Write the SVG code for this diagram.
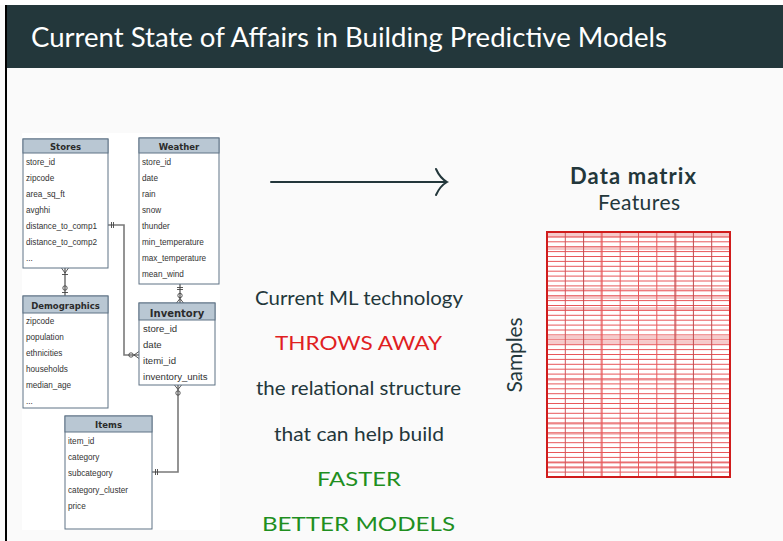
<svg xmlns="http://www.w3.org/2000/svg" width="783" height="541" viewBox="0 0 783 541">
  <style>
    .hdr { fill: #b9c7d3; stroke: #5f7385; stroke-width: 1; }
    .tbl { fill: #ffffff; stroke: #5f7385; stroke-width: 1; }
    .tname { font-family: "DejaVu Sans", Verdana, sans-serif; font-weight: bold; font-size: 8.5px; fill: #2b2b2b; text-anchor: middle; }
    .row { font-family: "Liberation Sans", Arial, sans-serif; font-size: 8.2px; fill: #333333; }
    .rowL { font-family: "Liberation Sans", Arial, sans-serif; font-size: 9.6px; fill: #333333; }
    .conn { fill: none; stroke: #7a7a7a; stroke-width: 1.6; }
    .mark { fill: none; stroke: #444444; stroke-width: 0.9; }
    .body { font-family: Lato, "Open Sans", sans-serif; font-size: 20px; text-anchor: middle; }
    .grid { stroke: #e8575a; stroke-width: 1; }
    .band { fill: #e88a8c; opacity: 0.45; }
  </style>

  <!-- slide background and frame -->
  <rect x="0" y="0" width="783" height="541" fill="#fafafa"/>
  <rect x="0" y="0" width="783" height="5" fill="#ffffff"/>
  <rect x="6" y="5" width="777" height="63" fill="#23373b"/>
  <rect x="5" y="5" width="2" height="536" fill="#000000"/>
  <text x="31" y="47" font-family="Lato, 'Open Sans', sans-serif" font-size="26" fill="#ffffff" textLength="636" lengthAdjust="spacingAndGlyphs">Current State of Affairs in Building Predictive Models</text>

  <!-- schema panel -->
  <rect x="22" y="133" width="198" height="397" fill="#ffffff"/>

  <g id="connectors">
    <!-- Stores -> Inventory -->
    <polyline class="conn" points="108,225 124,225 124,355 139,355"/>
    <line class="mark" x1="111.5" y1="222" x2="111.5" y2="228"/>
    <line class="mark" x1="113.5" y1="222" x2="113.5" y2="228"/>
    <circle class="mark" cx="131" cy="355" r="2.2" fill="#ffffff"/>
    <polyline class="mark" points="139,351.5 134,355 139,358.5"/>
    <!-- Stores -> Demographics -->
    <line class="conn" x1="65" y1="268" x2="65" y2="296"/>
    <polyline class="mark" points="61.5,268 65,273 68.5,268"/>
    <line class="mark" x1="62" y1="274.5" x2="68" y2="274.5"/>
    <circle class="mark" cx="65" cy="288" r="2.2" fill="#ffffff"/>
    <line class="mark" x1="62" y1="292.5" x2="68" y2="292.5"/>
    <!-- Weather -> Inventory -->
    <line class="conn" x1="180" y1="284" x2="180" y2="303"/>
    <line class="mark" x1="177" y1="287.5" x2="183" y2="287.5"/>
    <line class="mark" x1="177" y1="289.5" x2="183" y2="289.5"/>
    <circle class="mark" cx="180" cy="295.5" r="2.2" fill="#ffffff"/>
    <polyline class="mark" points="176.5,303 180,298.5 183.5,303"/>
    <!-- Inventory -> Items -->
    <polyline class="conn" points="178,385 178,472 152,472"/>
    <polyline class="mark" points="174.5,385 178,389.5 181.5,385"/>
    <circle class="mark" cx="178" cy="393" r="2.2" fill="#ffffff"/>
    <line class="mark" x1="155.5" y1="469" x2="155.5" y2="475"/>
    <line class="mark" x1="157.5" y1="469" x2="157.5" y2="475"/>
  </g>

  <g id="stores">
    <rect class="tbl" x="23" y="139" width="85" height="129"/>
    <rect class="hdr" x="23" y="139" width="85" height="14"/>
    <text class="tname" x="65.5" y="149.5">Stores</text>
    <text class="row" x="26" y="165">store_id</text>
    <text class="row" x="26" y="181">zipcode</text>
    <text class="row" x="26" y="197">area_sq_ft</text>
    <text class="row" x="26" y="213">avghhi</text>
    <text class="row" x="26" y="229">distance_to_comp1</text>
    <text class="row" x="26" y="245">distance_to_comp2</text>
    <text class="row" x="26" y="261" fill="#777777">...</text>
  </g>

  <g id="weather">
    <rect class="tbl" x="139" y="138" width="80" height="146"/>
    <rect class="hdr" x="139" y="138" width="80" height="15"/>
    <text class="tname" x="179" y="149.5">Weather</text>
    <text class="row" x="142" y="165">store_id</text>
    <text class="row" x="142" y="181">date</text>
    <text class="row" x="142" y="197">rain</text>
    <text class="row" x="142" y="213">snow</text>
    <text class="row" x="142" y="229">thunder</text>
    <text class="row" x="142" y="245">min_temperature</text>
    <text class="row" x="142" y="261">max_temperature</text>
    <text class="row" x="142" y="277">mean_wind</text>
  </g>

  <g id="demographics">
    <rect class="tbl" x="23" y="296" width="85" height="112"/>
    <rect class="hdr" x="23" y="296" width="85" height="17"/>
    <text class="tname" x="65.5" y="308.5">Demographics</text>
    <text class="row" x="26" y="324">zipcode</text>
    <text class="row" x="26" y="340">population</text>
    <text class="row" x="26" y="356">ethnicities</text>
    <text class="row" x="26" y="372">households</text>
    <text class="row" x="26" y="388">median_age</text>
    <text class="row" x="26" y="404" fill="#777777">...</text>
  </g>

  <g id="inventory">
    <rect class="tbl" x="139" y="303" width="76" height="82"/>
    <rect class="hdr" x="139" y="303" width="76" height="17"/>
    <text class="tname" x="177" y="317" style="font-size:10px">Inventory</text>
    <text class="rowL" x="143" y="331.5">store_id</text>
    <text class="rowL" x="143" y="347.5">date</text>
    <text class="rowL" x="143" y="363.5">itemi_id</text>
    <text class="rowL" x="143" y="379.5">inventory_units</text>
  </g>

  <g id="items">
    <rect class="tbl" x="65" y="416" width="87" height="113"/>
    <rect class="hdr" x="65" y="416" width="87" height="16"/>
    <text class="tname" x="108.5" y="428">Items</text>
    <text class="row" x="68" y="444">item_id</text>
    <text class="row" x="68" y="460">category</text>
    <text class="row" x="68" y="476">subcategory</text>
    <text class="row" x="68" y="493">category_cluster</text>
    <text class="row" x="68" y="509">price</text>
  </g>

  <!-- transformation arrow -->
  <g id="arrow" fill="none" stroke="#23373b" stroke-width="2" stroke-linecap="round">
    <line x1="271" y1="182" x2="446" y2="182"/>
    <path d="M436,169 Q440,178 447,182 Q440,186 436,195"/>
  </g>

  <!-- message -->
  <g id="message">
    <text class="body" x="359" y="305" fill="#23373b" textLength="208" lengthAdjust="spacingAndGlyphs">Current ML technology</text>
    <text class="body" x="358.5" y="350" fill="#e0201f" textLength="167" lengthAdjust="spacingAndGlyphs">THROWS AWAY</text>
    <text class="body" x="358.5" y="395" fill="#23373b" textLength="205" lengthAdjust="spacingAndGlyphs">the relational structure</text>
    <text class="body" x="359" y="441" fill="#23373b" textLength="170" lengthAdjust="spacingAndGlyphs">that can help build</text>
    <text class="body" x="359" y="486" fill="#1f8f1f" textLength="84" lengthAdjust="spacingAndGlyphs">FASTER</text>
    <text class="body" x="358.5" y="531" fill="#1f8f1f" textLength="193" lengthAdjust="spacingAndGlyphs">BETTER MODELS</text>
  </g>

  <!-- data matrix -->
  <g id="data-matrix">
    <text x="633" y="184" font-family="Lato, 'Open Sans', sans-serif" font-size="22" font-weight="bold" fill="#23373b" text-anchor="middle" textLength="126">Data matrix</text>
    <text x="639" y="210" font-family="Lato, 'Open Sans', sans-serif" font-size="21" fill="#23373b" text-anchor="middle" textLength="82">Features</text>
    <text transform="translate(522,355) rotate(-90)" font-family="Lato, 'Open Sans', sans-serif" font-size="21" fill="#23373b" text-anchor="middle" textLength="75">Samples</text>
    <rect x="547" y="232" width="183" height="245" fill="#ffffff"/>
    <!-- faded sample rows -->
    <rect class="band" x="547" y="232" width="183" height="6"/>
    <rect class="band" x="547" y="247" width="183" height="3"/>
    <rect class="band" x="547" y="288" width="183" height="3"/>
    <rect class="band" x="547" y="296" width="183" height="3"/>
    <rect class="band" x="547" y="307" width="183" height="3"/>
    <rect class="band" x="547" y="336" width="183" height="3"/>
    <rect class="band" x="547" y="341" width="183" height="3"/>
    <rect class="band" x="547" y="378" width="183" height="3"/>
    <rect class="band" x="547" y="422" width="183" height="3"/>
    <rect class="band" x="547" y="432" width="183" height="3"/>
    <rect class="band" x="547" y="461" width="183" height="3"/>
    <rect class="band" x="547" y="466" width="183" height="3"/>
    <!-- faded feature columns -->
    <rect class="band" x="600" y="232" width="3" height="245" opacity="0.35"/>
    <rect class="band" x="674" y="232" width="3" height="245" opacity="0.35"/>
    <g class="grid">
      <line x1="547" y1="236.9" x2="730" y2="236.9"/><line x1="547" y1="241.8" x2="730" y2="241.8"/>
      <line x1="547" y1="246.7" x2="730" y2="246.7"/><line x1="547" y1="251.6" x2="730" y2="251.6"/>
      <line x1="547" y1="256.5" x2="730" y2="256.5"/><line x1="547" y1="261.4" x2="730" y2="261.4"/>
      <line x1="547" y1="266.3" x2="730" y2="266.3"/><line x1="547" y1="271.2" x2="730" y2="271.2"/>
      <line x1="547" y1="276.1" x2="730" y2="276.1"/><line x1="547" y1="281" x2="730" y2="281"/>
      <line x1="547" y1="285.9" x2="730" y2="285.9"/><line x1="547" y1="290.8" x2="730" y2="290.8"/>
      <line x1="547" y1="295.7" x2="730" y2="295.7"/><line x1="547" y1="300.6" x2="730" y2="300.6"/>
      <line x1="547" y1="305.5" x2="730" y2="305.5"/><line x1="547" y1="310.4" x2="730" y2="310.4"/>
      <line x1="547" y1="315.3" x2="730" y2="315.3"/><line x1="547" y1="320.2" x2="730" y2="320.2"/>
      <line x1="547" y1="325.1" x2="730" y2="325.1"/><line x1="547" y1="330" x2="730" y2="330"/>
      <line x1="547" y1="334.9" x2="730" y2="334.9"/><line x1="547" y1="339.8" x2="730" y2="339.8"/>
      <line x1="547" y1="344.7" x2="730" y2="344.7"/><line x1="547" y1="349.6" x2="730" y2="349.6"/>
      <line x1="547" y1="354.5" x2="730" y2="354.5"/><line x1="547" y1="359.4" x2="730" y2="359.4"/>
      <line x1="547" y1="364.3" x2="730" y2="364.3"/><line x1="547" y1="369.2" x2="730" y2="369.2"/>
      <line x1="547" y1="374.1" x2="730" y2="374.1"/><line x1="547" y1="379" x2="730" y2="379"/>
      <line x1="547" y1="383.9" x2="730" y2="383.9"/><line x1="547" y1="388.8" x2="730" y2="388.8"/>
      <line x1="547" y1="393.7" x2="730" y2="393.7"/><line x1="547" y1="398.6" x2="730" y2="398.6"/>
      <line x1="547" y1="403.5" x2="730" y2="403.5"/><line x1="547" y1="408.4" x2="730" y2="408.4"/>
      <line x1="547" y1="413.3" x2="730" y2="413.3"/><line x1="547" y1="418.2" x2="730" y2="418.2"/>
      <line x1="547" y1="423.1" x2="730" y2="423.1"/><line x1="547" y1="428" x2="730" y2="428"/>
      <line x1="547" y1="432.9" x2="730" y2="432.9"/><line x1="547" y1="437.8" x2="730" y2="437.8"/>
      <line x1="547" y1="442.7" x2="730" y2="442.7"/><line x1="547" y1="447.6" x2="730" y2="447.6"/>
      <line x1="547" y1="452.5" x2="730" y2="452.5"/><line x1="547" y1="457.4" x2="730" y2="457.4"/>
      <line x1="547" y1="462.3" x2="730" y2="462.3"/><line x1="547" y1="467.2" x2="730" y2="467.2"/>
      <line x1="547" y1="472.1" x2="730" y2="472.1"/>
      <line x1="565.3" y1="232" x2="565.3" y2="477" stroke="#d0565a"/>
      <line x1="583.6" y1="232" x2="583.6" y2="477" stroke="#c04a4e"/>
      <line x1="601.9" y1="232" x2="601.9" y2="477"/>
      <line x1="620.2" y1="232" x2="620.2" y2="477"/>
      <line x1="638.5" y1="232" x2="638.5" y2="477"/>
      <line x1="656.8" y1="232" x2="656.8" y2="477"/>
      <line x1="675.1" y1="232" x2="675.1" y2="477" stroke="#c04a4e"/>
      <line x1="693.4" y1="232" x2="693.4" y2="477" stroke="#c04a4e"/>
      <line x1="711.7" y1="232" x2="711.7" y2="477" stroke="#c04a4e"/>
    </g>
    <rect x="547" y="232" width="183" height="245" fill="none" stroke="#d01c1c" stroke-width="2"/>
  </g>
</svg>
